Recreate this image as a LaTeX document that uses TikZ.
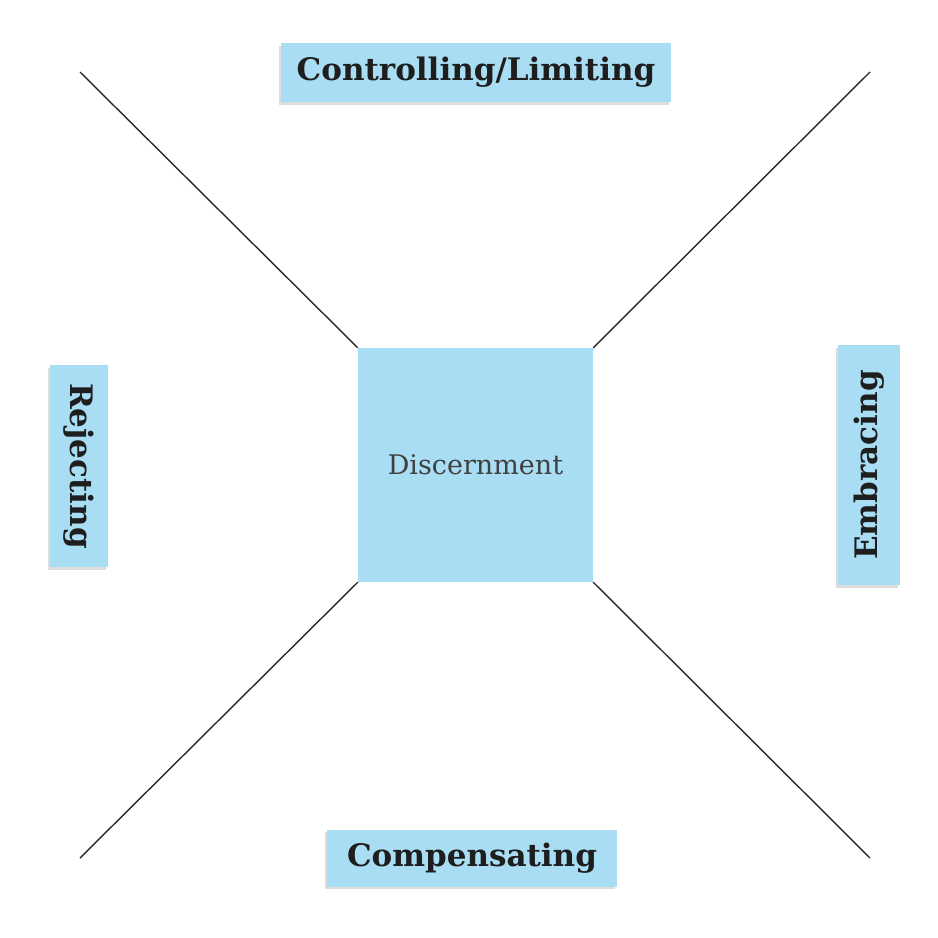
\documentclass[tikz,border=0pt]{standalone}
\usepackage{fontspec}
\setmainfont{DejaVu Serif}
\usetikzlibrary{shadows}
\definecolor{boxblue}{HTML}{A9DDF4}
\definecolor{inkdark}{HTML}{1E1E1E}
\definecolor{linegray}{HTML}{2A2A2A}
\tikzset{
  tag/.style={fill=boxblue, inner sep=0pt, text=inkdark,
    font=\bfseries\fontsize{31}{34}\selectfont,
    drop shadow={shadow xshift=-2.5pt, shadow yshift=-2.5pt, opacity=0.22, fill=black!60}},
  centerbox/.style={fill=boxblue, inner sep=0pt, minimum width=235pt, minimum height=234pt,
    text=inkdark!85, font=\fontsize{27}{30}\selectfont},
  spoke/.style={draw=linegray, line width=1.4pt}
}
\begin{document}
\begin{tikzpicture}[x=1pt,y=-1pt]
\useasboundingbox (0,0) rectangle (938,938);
\fill[white] (0,0) rectangle (938,938);
\node[centerbox] (c) at (475.5,465) {Discernment};
\coordinate (tl) at (80,72);
\coordinate (tr) at (870,72);
\coordinate (bl) at (80,858);
\coordinate (br) at (870,858);
\draw[spoke] (c.north west) -- (tl);
\draw[spoke] (c.north east) -- (tr);
\draw[spoke] (c.south west) -- (bl);
\draw[spoke] (c.south east) -- (br);
\node[tag, minimum width=390pt, minimum height=59pt] (top) at (476,72.5) {Controlling/Limiting};
\node[tag, minimum width=290pt, minimum height=57pt] (bot) at (472,858) {Compensating};
\node[tag, rotate=-90, minimum width=202pt, minimum height=58pt] (left) at (79,466) {Rejecting};
\node[tag, rotate=90, minimum width=240pt, minimum height=62pt] (right) at (869,465) {Embracing};
\end{tikzpicture}
\end{document}
